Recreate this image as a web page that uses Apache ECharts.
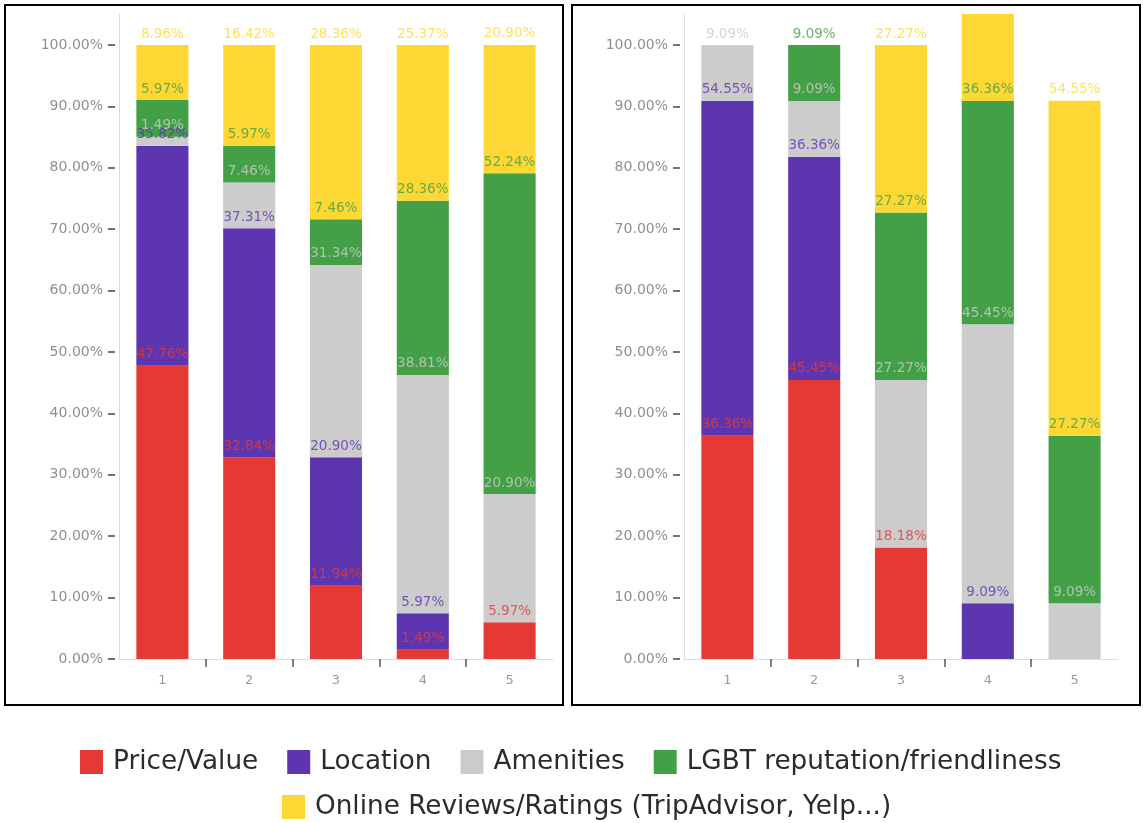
<!DOCTYPE html>
<html>
<head>
<meta charset="utf-8">
<script src="https://cdn.jsdelivr.net/npm/echarts@6/dist/echarts.min.js"></script>
<style>
  html, body { margin: 0; padding: 0; background: #fff; }
  #chart { width: 1143px; height: 823px; }
</style>
</head>
<body>
<div id="chart"></div>
<script>
// Categories (ranking position) shared by both panels
const categories = ['1', '2', '3', '4', '5'];
const seriesNames = [
  'Price/Value',
  'Location',
  'Amenities',
  'LGBT reputation/friendliness',
  'Online Reviews/Ratings (TripAdvisor, Yelp...)'
];
const seriesColors = ['#e53935', '#5e35b1', '#cccccc', '#43a047', '#fdd835'];

// Left panel shares (%)
const leftPrice     = [47.76, 32.84, 11.94, 1.49, 5.97];
const leftLocation  = [35.82, 37.31, 20.90, 5.97, 0];
const leftAmenities = [1.49, 7.46, 31.34, 38.81, 20.90];
const leftLgbt      = [5.97, 5.97, 7.46, 28.36, 52.24];
const leftReviews   = [8.96, 16.42, 28.36, 25.37, 20.90];

// Right panel shares (%)
const rightPrice     = [36.36, 45.45, 18.18, 0, 0];
const rightLocation  = [54.55, 36.36, 0, 9.09, 0];
const rightAmenities = [9.09, 9.09, 27.27, 45.45, 9.09];
const rightLgbt      = [0, 9.09, 27.27, 36.36, 27.27];
const rightReviews   = [0, 0, 27.27, 18.18, 54.55];

// Y tick labels
const yTicks = [0, 10, 20, 30, 40, 50, 60, 70, 80, 90, 100];
const yMax = 105.05;

const FONT = 'DejaVu Sans';
const panels = [
  [leftPrice, leftLocation, leftAmenities, leftLgbt, leftReviews],
  [rightPrice, rightLocation, rightAmenities, rightLgbt, rightReviews]
];
const grids = [
  { left: 119, top: 14, width: 434, height: 645 },
  { left: 684, top: 14, width: 434, height: 645 }
];

const xAxes = [], yAxes = [], series = [];
grids.forEach((g, gi) => {
  // category axis with the light baseline and labels
  xAxes.push({
    type: 'category', gridIndex: gi, data: categories,
    axisLine: { lineStyle: { color: '#dddddd', width: 1 } },
    axisTick: { show: false },
    axisLabel: { color: '#9a9a9a', fontFamily: FONT, fontSize: 13, margin: 15 }
  });
  // separator ticks between categories
  xAxes.push({
    type: 'value', gridIndex: gi, min: 0, max: 5, position: 'bottom',
    axisLine: { show: false },
    axisTick: { show: true, customValues: [1, 2, 3, 4], length: 8, lineStyle: { color: '#555', width: 1.5 } },
    axisLabel: { show: false }, splitLine: { show: false }
  });
  // vertical axis line
  yAxes.push({
    type: 'value', gridIndex: gi, min: 0, max: yMax,
    axisLine: { show: true, lineStyle: { color: '#dddddd', width: 1 } },
    axisTick: { show: false }, axisLabel: { show: false }, splitLine: { show: false }
  });
  // ticks and percentage labels, set slightly away from the line
  yAxes.push({
    type: 'value', gridIndex: gi, min: 0, max: yMax, position: 'left', offset: 4,
    axisLine: { show: false },
    axisTick: { show: true, customValues: yTicks, length: 7, lineStyle: { color: '#444', width: 1.5 } },
    axisLabel: {
      customValues: yTicks, margin: 12, color: '#8f8f8f', fontFamily: FONT, fontSize: 14,
      formatter: v => v.toFixed(2) + '%'
    },
    splitLine: { show: false }
  });

  const data = panels[gi];
  const cum = categories.map(() => 0);
  data.forEach((vals, si) => {
    const tops = vals.map((v, ci) => (cum[ci] += v));
    series.push({
      type: 'bar', name: seriesNames[si], stack: 'p' + gi,
      xAxisIndex: gi * 2, yAxisIndex: gi * 2,
      barCategoryGap: '40%', clip: true,
      itemStyle: { color: seriesColors[si] },
      data: vals,
      label: {
        show: true, position: 'top', distance: 4,
        color: seriesColors[si], opacity: 0.8,
        fontFamily: FONT, fontSize: 13.5,
        formatter: p => (p.value > 0 && tops[p.dataIndex] <= yMax) ? p.value.toFixed(2) + '%' : ''
      }
    });
  });
});

const legendText = { fontFamily: FONT, fontSize: 26.3, color: '#2b2b2b', padding: [0, 0, 0, 5] };

const chart = echarts.init(document.getElementById('chart'), null, { renderer: 'canvas' });
chart.setOption({
  animation: false,
  grid: grids,
  xAxis: xAxes,
  yAxis: yAxes,
  series: series,
  legend: [
    {
      data: seriesNames.slice(0, 4), left: 80, top: 749, padding: 0,
      icon: 'rect', itemWidth: 23, itemHeight: 24, itemGap: 29,
      textStyle: legendText
    },
    {
      data: seriesNames.slice(4), left: 282, top: 794, padding: 0,
      icon: 'rect', itemWidth: 23, itemHeight: 24, itemGap: 29,
      textStyle: legendText
    }
  ],
  graphic: [
    { type: 'rect', shape: { x: 5, y: 5, width: 558, height: 700 }, style: { fill: 'none', stroke: '#000', lineWidth: 2 }, silent: true },
    { type: 'rect', shape: { x: 572, y: 5, width: 568, height: 700 }, style: { fill: 'none', stroke: '#000', lineWidth: 2 }, silent: true }
  ]
});
</script>
</body>
</html>
